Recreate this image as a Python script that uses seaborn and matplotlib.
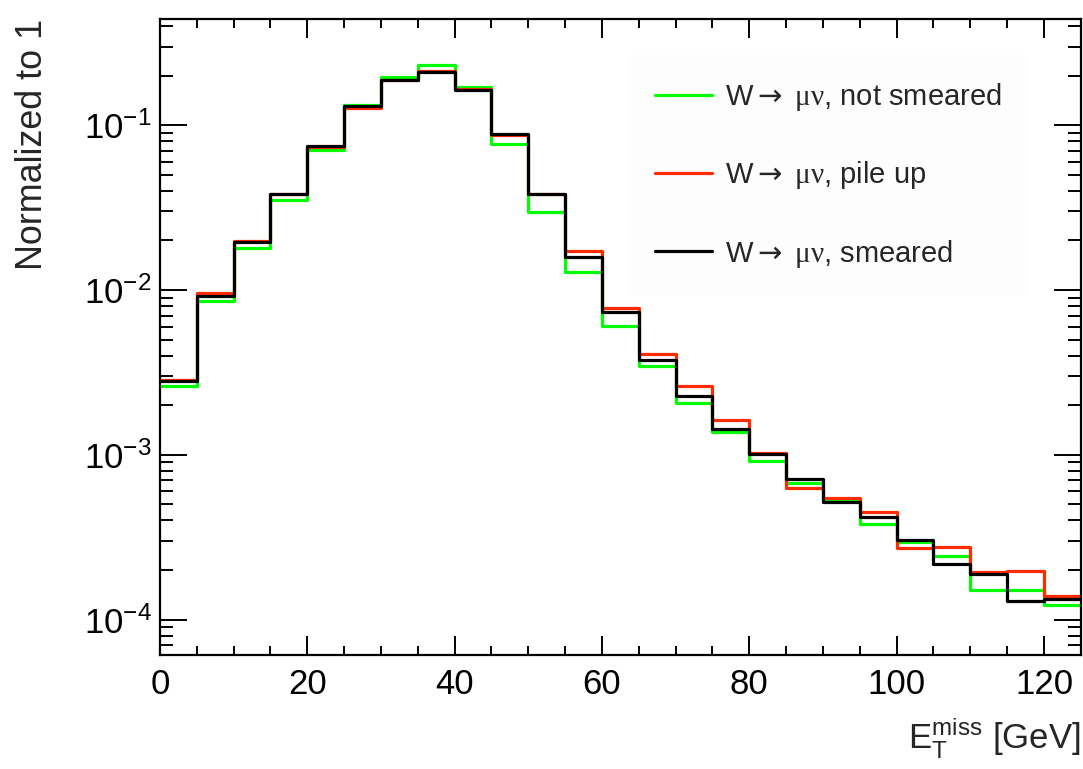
import numpy as np
import pandas as pd
import matplotlib
matplotlib.use("Agg")
import matplotlib.pyplot as plt
from matplotlib.lines import Line2D
from matplotlib.ticker import MultipleLocator, LogLocator, NullFormatter
import seaborn as sns

# Missing transverse energy, 5 GeV bins from 0 to 125 GeV
bin_edges = [0, 5, 10, 15, 20, 25, 30, 35, 40, 45, 50, 55, 60, 65, 70,
             75, 80, 85, 90, 95, 100, 105, 110, 115, 120, 125]

not_smeared = [2.63e-3, 8.6e-3, 0.0180, 0.0350, 0.0705, 0.132, 0.196, 0.233,
               0.171, 0.0775, 0.0298, 0.0128, 6.05e-3, 3.48e-3, 2.06e-3,
               1.37e-3, 9.23e-4, 6.74e-4, 5.34e-4, 3.82e-4, 2.98e-4,
               2.45e-4, 1.52e-4, 1.52e-4, 1.22e-4]
pile_up = [2.85e-3, 9.64e-3, 0.0199, 0.0385, 0.0740, 0.128, 0.187, 0.213,
           0.165, 0.0870, 0.0385, 0.0172, 7.82e-3, 4.09e-3, 2.63e-3,
           1.63e-3, 1.02e-3, 6.28e-4, 5.51e-4, 4.50e-4, 2.74e-4,
           2.76e-4, 1.94e-4, 1.96e-4, 1.40e-4]
smeared = [2.80e-3, 9.2e-3, 0.0195, 0.0385, 0.0746, 0.131, 0.1875, 0.210,
           0.163, 0.0890, 0.0385, 0.0158, 7.40e-3, 3.76e-3, 2.29e-3,
           1.44e-3, 1.01e-3, 7.13e-4, 5.21e-4, 4.17e-4, 3.05e-4,
           2.18e-4, 1.90e-4, 1.30e-4, 1.34e-4]

decay = r"W$\mathsf{\rightarrow}$ $\mathtt{\mu\nu}$"
series_labels = [decay + ", not smeared",
                 decay + ", pile up",
                 decay + ", smeared"]
series_colors = ["#00ff00", "#ff2a00", "#000000"]

sns.set_style("ticks")
plt.rcParams["font.family"] = ["Liberation Sans", "DejaVu Sans"]
plt.rcParams["mathtext.fontset"] = "custom"
plt.rcParams["mathtext.rm"] = "Liberation Sans"
plt.rcParams["mathtext.it"] = "Liberation Sans:italic"
plt.rcParams["mathtext.bf"] = "Liberation Sans:bold"
plt.rcParams["mathtext.sf"] = "DejaVu Sans"      # long arrow glyph
plt.rcParams["mathtext.tt"] = "Liberation Serif"  # upright serif Greek

fig = plt.figure(figsize=(10.83, 7.69), dpi=100)
ax = fig.add_axes([0.1477, 0.1482, 0.8503, 0.8268])

centers = [0.5 * (lo + hi) for lo, hi in zip(bin_edges[:-1], bin_edges[1:])]

for vals, col in zip([not_smeared, pile_up, smeared], series_colors):
    df = pd.DataFrame({"met": centers, "frac": vals})
    sns.histplot(data=df, x="met", weights="frac", bins=list(bin_edges),
                 element="step", fill=False, color=col, linewidth=2.3, ax=ax)

ax.set_yscale("log")
ax.set_xlim(0, 125)
ax.set_ylim(6.1e-5, 0.44)

# ROOT-like frame: ticks inside on all four sides
for sp in ax.spines.values():
    sp.set_visible(True)
    sp.set_linewidth(1.6)
    sp.set_color("black")
ax.xaxis.set_major_locator(MultipleLocator(20))
ax.xaxis.set_minor_locator(MultipleLocator(5))
ax.yaxis.set_major_locator(LogLocator(base=10, numticks=10))
ax.yaxis.set_minor_locator(LogLocator(base=10, subs=np.arange(2, 10), numticks=20))
ax.yaxis.set_minor_formatter(NullFormatter())
ax.tick_params(axis="both", which="both", direction="in", top=True, right=True,
               width=1.4, colors="black", labelsize=25)
ax.tick_params(axis="x", which="major", length=13.7, pad=9)
ax.tick_params(axis="x", which="minor", length=6.5)
ax.tick_params(axis="y", which="major", length=19.4, pad=6)
ax.tick_params(axis="y", which="minor", length=9.4)
ax.grid(False)

ax.set_xlabel(r"E$_{\mathrm{T}}^{\mathrm{miss}}$ [GeV]", fontsize=25, loc="right")
ax.xaxis.set_label_coords(1.0, -0.095)
ax.set_ylabel("Normalized to 1", fontsize=25.8, loc="top")
ax.yaxis.set_label_coords(-0.119, 1.0)

handles = [Line2D([0], [0], color=c, linewidth=2.3) for c in series_colors]
leg = ax.legend(handles, series_labels, loc="upper left",
                bbox_to_anchor=(0.510, 0.943), borderaxespad=0,
                fontsize=21, frameon=True, fancybox=False,
                handlelength=1.95, handletextpad=0.45,
                labelspacing=1.59, borderpad=0.87)
leg.get_frame().set_facecolor("#fdfdfd")
leg.get_frame().set_edgecolor("none")
leg.get_frame().set_alpha(1.0)

fig.savefig("out.png", dpi=100, facecolor="white")
